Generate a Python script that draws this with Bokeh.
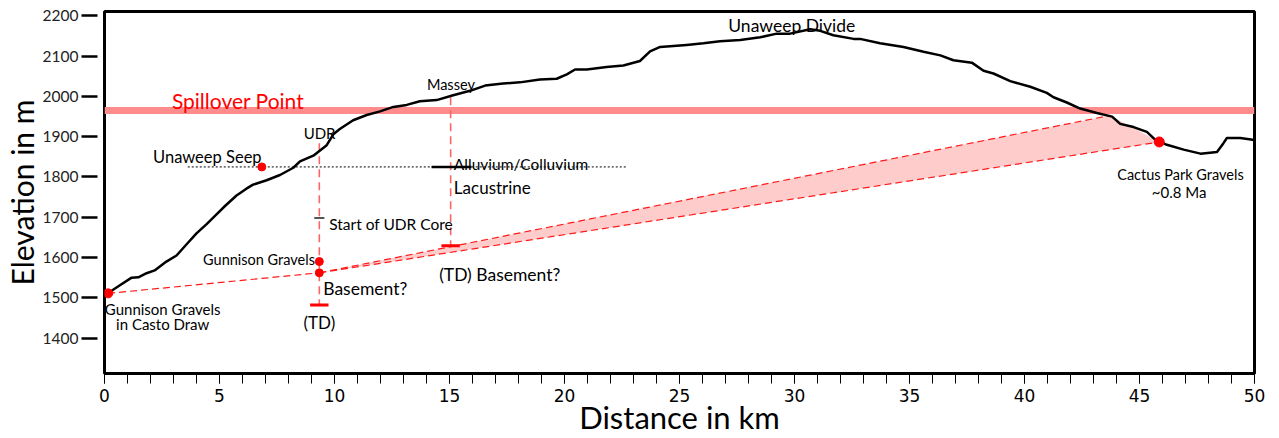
from bokeh.plotting import figure
from bokeh.models import FixedTicker, Range1d, Label
from bokeh.embed import file_html
from bokeh.resources import INLINE

# ---------------- data ----------------
profile_km = [0.16, 0.67, 1.18, 1.47, 1.83, 2.18, 2.69, 3.13, 3.57, 4.00,
              4.44, 4.87, 5.24, 5.74, 6.17, 6.46, 7.05, 7.63, 8.21, 8.50,
              9.08, 9.66, 9.95, 10.23, 10.81, 11.40, 11.98, 12.56, 13.14, 13.71,
              14.44, 15.16, 15.89, 16.55, 17.33, 18.06, 18.93, 19.66, 20.10, 20.46,
              20.97, 21.83, 22.56, 23.28, 23.72, 24.16, 25.31, 26.04, 26.76, 27.64,
              28.51, 29.23, 29.81, 30.68, 31.12, 31.69, 32.57, 32.85, 33.72, 34.74,
              35.61, 36.34, 36.91, 37.71, 38.22, 38.65, 39.38, 40.25, 40.97, 41.26,
              41.84, 42.42, 43.15, 43.81, 44.16, 44.74, 45.32, 45.68, 46.19, 46.92,
              47.65, 48.37, 48.65, 48.80, 49.38, 50.00]
profile_m = [1512, 1531, 1550, 1551, 1561, 1568, 1590, 1605, 1633, 1660,
             1683, 1707, 1728, 1754, 1771, 1781, 1792, 1805, 1823, 1839,
             1853, 1879, 1906, 1919, 1941, 1954, 1963, 1974, 1979, 1988,
             1991, 2003, 2014, 2027, 2032, 2035, 2042, 2044, 2055, 2067,
             2067, 2073, 2077, 2088, 2112, 2123, 2128, 2132, 2137, 2140,
             2147, 2156, 2156, 2167, 2163, 2152, 2143, 2143, 2132, 2123,
             2111, 2102, 2090, 2084, 2064, 2057, 2038, 2024, 2009, 1998,
             1985, 1970, 1959, 1950, 1932, 1924, 1912, 1893, 1880, 1868,
             1858, 1862, 1884, 1897, 1897, 1892]

spillover_m = 1964

# red points: Casto Draw gravels, Unaweep Seep, UDR Gunnison gravels, UDR basement, Cactus Park
point_km = [0.16, 6.84, 9.34, 9.34, 45.86]
point_m = [1511, 1825, 1590, 1562, 1887]

# wells: UDR and Massey
well_km = [9.34, 15.05]
well_top_m = [1884, 1998]
well_td_m = [1482, 1629]
udr_core_start_m = 1698

# seep level and alluvium/lacustrine contact
seep_m = 1825
seep_line_km = [3.62, 22.71]
contact_km = [14.22, 15.96]

# paleo-surface wedge: basement at UDR -> upper end near spillover / lower end at Cactus Park
wedge_start = (9.34, 1562)
wedge_upper_end = (43.73, 1953)
wedge_lower_end = (45.86, 1887)

x_ticks = [0, 5, 10, 15, 20, 25, 30, 35, 40, 45, 50]
x_minor = list(range(0, 51))
y_ticks = [1400, 1500, 1600, 1700, 1800, 1900, 2000, 2100, 2200]

FONT = "Lato"

# ---------------- figure ----------------
p = figure(width=1279, height=438, x_range=Range1d(0, 50), y_range=Range1d(1312, 2211),
           output_backend="svg", toolbar_location=None,
           min_border_left=104, min_border_right=25, min_border_top=11, min_border_bottom=65)
p.grid.visible = False
p.outline_line_color = "black"
p.outline_line_width = 3
p.background_fill_color = "white"
p.border_fill_color = "white"

# x axis
xa = p.xaxis[0]
xa.ticker = FixedTicker(ticks=x_ticks, minor_ticks=x_minor)
xa.axis_line_color = None
xa.major_tick_in = 0
xa.major_tick_out = 10
xa.minor_tick_in = 0
xa.minor_tick_out = 10
xa.major_tick_line_color = "black"
xa.minor_tick_line_color = "black"
xa.major_tick_line_width = 1
xa.minor_tick_line_width = 1
xa.major_label_text_font = "DejaVu Sans"
xa.major_label_text_font_size = "17px"
xa.major_label_text_color = "black"
xa.major_label_standoff = 5
xa.axis_label = "Distance in km"
xa.axis_label_text_font = FONT
xa.axis_label_text_font_size = "31px"
xa.axis_label_text_font_style = "normal"
xa.axis_label_text_color = "black"
xa.axis_label_standoff = -7

# y axis
ya = p.yaxis[0]
ya.ticker = FixedTicker(ticks=y_ticks, minor_ticks=[])
ya.axis_line_color = None
ya.major_tick_in = -7
ya.major_tick_out = 23
ya.major_tick_line_width = 2.5
ya.major_tick_line_color = "black"
ya.minor_tick_line_color = None
ya.major_label_text_font = FONT
ya.major_label_text_font_size = "15.5px"
ya.major_label_text_color = "#222222"
ya.major_label_standoff = 3
ya.axis_label = "Elevation in m"
ya.axis_label_text_font = FONT
ya.axis_label_text_font_size = "30px"
ya.axis_label_text_font_style = "normal"
ya.axis_label_text_color = "black"
ya.axis_label_standoff = 0

# ---------------- glyphs ----------------
# spillover band
p.hspan(y=[spillover_m], line_color="#ff8c8c", line_width=7)

# wedge fill
p.patch(x=[wedge_start[0], wedge_upper_end[0], wedge_lower_end[0]],
        y=[wedge_start[1], wedge_upper_end[1], wedge_lower_end[1]],
        fill_color="#ffcccc", line_color=None)
# wedge edges and Casto-to-basement line
p.line(x=[wedge_start[0], wedge_upper_end[0]], y=[wedge_start[1], wedge_upper_end[1]],
       line_color="#ff1a1a", line_width=1.2, line_dash="7 4")
p.line(x=[wedge_start[0], wedge_lower_end[0]], y=[wedge_start[1], wedge_lower_end[1]],
       line_color="#ff1a1a", line_width=1.2, line_dash="7 4")
p.line(x=[point_km[0], point_km[3]], y=[point_m[0], point_m[3]],
       line_color="#ff1a1a", line_width=1.2, line_dash="7 4")

# well dashed lines
p.segment(x0=well_km, y0=well_top_m, x1=well_km, y1=well_td_m,
          line_color="#ff6464", line_width=1.6, line_dash="8 5")
# TD markers
p.segment(x0=[k - 0.4 for k in well_km], y0=well_td_m, x1=[k + 0.4 for k in well_km], y1=well_td_m,
          line_color="#ff0000", line_width=3)
# start of UDR core
p.segment(x0=[well_km[0] - 0.22], y0=[udr_core_start_m], x1=[well_km[0] + 0.22], y1=[udr_core_start_m],
          line_color="#555555", line_width=2)

# seep dotted line and contact
p.line(x=seep_line_km, y=[seep_m, seep_m], line_color="black", line_width=1, line_dash="2 2")
p.line(x=contact_km, y=[seep_m, seep_m], line_color="black", line_width=2.5)

# profile
p.line(x=profile_km, y=profile_m, line_color="black", line_width=2.5, line_join="round")

# points
p.scatter(x=point_km, y=point_m, size=[9, 8, 8, 8, 10], fill_color="#ff0000", line_color="#ff0000")

# ---------------- labels ----------------
def lab(x, y, text, size, align="left", color="black", font=FONT):
    p.add_layout(Label(x=x, y=y, text=text, text_font=font, text_font_size=size,
                       text_align=align, text_baseline="alphabetic", text_color=color))

lab(2.93, 1989.5, "Spillover Point", "21px", color="#ff0000")
lab(2.11, 1849, "Unaweep Seep", "16.5px")
lab(9.35, 1908.7, "UDR", "15px", align="center")
lab(15.06, 2029, "Massey", "14.5px", align="center")
lab(15.19, 1833.4, "Alluvium/Colluvium", "15.5px")
lab(15.19, 1775, "Lacustrine", "17px")
lab(9.77, 1683, "Start of UDR Core", "15.5px")
lab(9.15, 1595.6, "Gunnison Gravels", "14.5px", align="right")
lab(9.51, 1524, "Basement?", "17.5px")
lab(9.34, 1438.5, "(TD)", "17px", align="center")
lab(14.55, 1557, "(TD) Basement?", "17.5px")
lab(2.53, 1472, "Gunnison Gravels", "15px", align="center")
lab(2.53, 1435, "in Casto Draw", "15px", align="center")
lab(27.12, 2175.5, "Unaweep Divide", "17.5px")
lab(46.78, 1807, "Cactus Park Gravels", "14.5px", align="center")
lab(46.72, 1762, "~0.8 Ma", "15px", align="center")

open("out.html", "w").write(file_html(p, INLINE))
